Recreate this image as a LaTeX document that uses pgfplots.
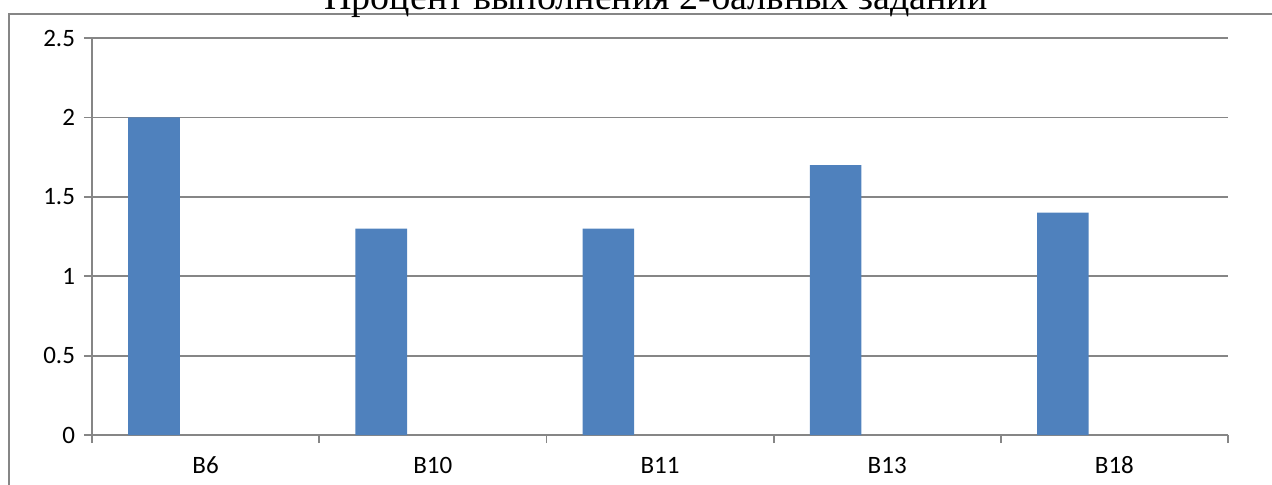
\documentclass[border=0pt]{standalone}
\usepackage{pgfplots}
\pgfplotsset{compat=1.18}
\usepackage{fontspec}
\setmainfont{Carlito}
\newfontfamily\titlefont{Liberation Serif}
\definecolor{barblue}{HTML}{4F81BD}
\definecolor{gridgray}{HTML}{868686}
\begin{document}
\begin{tikzpicture}[x=1pt,y=1pt]
\path[use as bounding box] (-46,-24.5) rectangle (590,217.5);
\draw[gridgray, line width=0.9pt] (-41.5,-60) -- (-41.5,210.5) -- (640,210.5);
\node[font=\titlefont\fontsize{19}{22}\selectfont, anchor=base] at (282,213) {Процент выполнения 2-бальных заданий};
\begin{axis}[
  at={(0,0)}, anchor=south west,
  scale only axis, width=568pt, height=198.5pt,
  ybar, bar width=25.8pt, bar shift=-25.8pt,
  xmin=-0.5, xmax=4.5, ymin=0, ymax=2.5,
  xtick={0,1,2,3,4},
  xticklabels={B6,B10,B11,B13,B18},
  major x tick style={draw=none},
  minor xtick={-0.5,0.5,1.5,2.5,3.5,4.5},
  ytick={0,0.5,1,1.5,2,2.5},
  yticklabels={0,0.5,1,1.5,2,2.5},
  axis x line*=bottom, axis y line*=left,
  axis line style={gridgray, line width=0.9pt, -},
  tick align=outside,
  major tick length=4pt, minor tick length=4pt,
  tick style={gridgray, line width=0.9pt},
  ymajorgrids, grid style={gridgray, line width=0.9pt},
  ticklabel style={font=\fontsize{12.5}{15}\selectfont, text=black},
  yticklabel style={xshift=-1pt},
  xticklabel style={text height=8.5pt, text depth=0pt, yshift=-3pt},
]
\addplot[fill=barblue, draw=none] coordinates {(0,2.0) (1,1.3) (2,1.3) (3,1.7) (4,1.4)};
\end{axis}
\end{tikzpicture}
\end{document}
